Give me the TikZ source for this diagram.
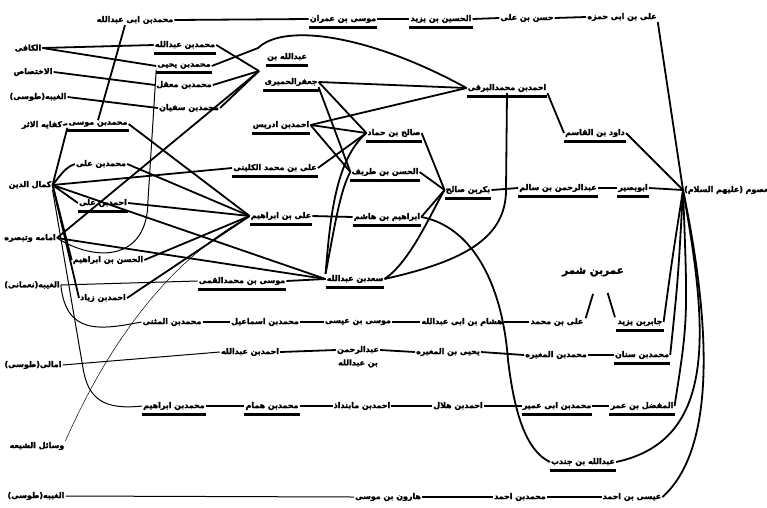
\documentclass[tikz,border=0pt]{standalone}
\usepackage{fontspec}
\newfontfamily\arabicfont[Script=Arabic, FakeBold=2.2]{DejaVu Sans}
\TeXXeTstate=1
\usetikzlibrary{positioning}
\tikzset{
	% a narrator or a book, set right to left
	narrator/.style={
		inner sep=1pt, font=\arabicfont\bfseries\fontsize{7.9}{9}\selectfont,
		execute at begin node={\beginR}, execute at end node={\endR}
	},
	% the thick bar under some of the names
	marked/.style={
		append after command={([yshift=-3pt]\tikzlastnode.south west) edge[bar] ([yshift=-3pt]\tikzlastnode.south east)}
	},
	bar/.style={draw, line width=2.8pt},
	% the lines of transmission
	link/.style={draw, line width=1.8pt},
	thinlink/.style={draw, line width=1pt},
	hairline/.style={draw, line width=0.5pt},
}

\begin{document}
\begin{tikzpicture}[x=1pt,y=-1pt]
	\useasboundingbox (0,0) rectangle (767,507);

	% Books
	\node [narrator] (kafi) at (28,48) {الکافی};
	\node [narrator] (ikhtisas) at (33,72) {الاختصاص};
	\node [narrator] (ghaybaT) at (38,97) {الغیبه(طوسی)};
	\node [narrator] (kifaya) at (42,125) {کفایه الاثر};
	\node [narrator] (kamal) at (30,185) {کمال الدین};
	\node [narrator] (imama) at (30,238) {امامه وتبصره};
	\node [narrator] (ghaybaN) at (32,285) {الغیبه(نعمانی)};
	\node [narrator] (amali) at (33,365) {امالی(طوسی)};
	\node [narrator] (wasail) at (37,446) {وسائل الشیعه};
	\node [narrator] (ghaybaTb) at (36,496) {الغیبه(طوسی)};

	% Top row
	\node [narrator] (mAbiAbd) at (135,20) {محمدبن ابی عبدالله};
	\node [narrator,marked] (musaImran) at (343,19) {موسی بن عمران};
	\node [narrator,marked] (husYazid) at (441,19) {الحسین بن یزید};
	\node [narrator] (hasanAli) at (527,18) {حسن بن علی};
	\node [narrator] (aliHamza) at (622,17) {علی بن ابی حمزه};

	% Second column
	\node [narrator,marked] (mAbd) at (185,45) {محمدبن عبدالله};
	\node [narrator,marked] (mYahya) at (184,66) {محمدبن یحیی};
	\node [narrator] (mMaqal) at (184,85) {محمدبن معقل};
	\node [narrator] (mSufyan) at (189,108) {محمدبن سفیان};
	\node [narrator,marked] (mMusa) at (98,124) {محمدبن موسی};
	\node [narrator] (mAli) at (101,164) {محمدبن علی};
	\node [narrator,marked] (aAli) at (103,203) {احمدبن علی};
	\node [narrator] (hIbrahim) at (108,260) {الحسن بن ابراهیم};
	\node [narrator] (aZiyad) at (103,298) {احمدبن زیاد};
	\node [narrator] (mMuthanna) at (172,322) {محمدبن المثنی};
	\node [narrator,marked] (musaQummi) at (242,281) {موسی بن محمدالقمی};
	\node [narrator] (aAbd) at (250,352) {احمدبن عبدالله};
	\node [narrator,marked] (mIbrahim) at (174,406) {محمدبن ابراهیم};

	% Third column
	\node [narrator,marked] (abdJafarA) at (287,57) {عبدالله بن};
	\node [narrator,marked] (abdJafar) at (291,82) {جعفرالحمیری};
	\node [narrator,marked] (aIdris) at (281,125) {احمدبن ادریس};
	\node [narrator,marked] (kulayni) at (275,168) {علی بن محمد الکلینی};
	\node [narrator,marked] (aliIbr) at (281,216) {علی بن ابراهیم};
	\node [narrator,marked] (saad) at (355,279) {سعدبن عبدالله};
	\node [narrator] (mIsmail) at (265,322) {محمدبن اسماعیل};
	\node [narrator,marked] (mHammam) at (272,406) {محمدبن همام};

	% Fourth column
	\node [narrator,marked] (saleh) at (394,133) {صالح بن حماد};
	\node [narrator,marked] (hasanT) at (385,172) {الحسن بن طریف};
	\node [narrator,marked] (ibrahimH) at (387,217) {ابراهیم بن هاشم};
	\node [narrator] (musaIsa) at (358,322) {موسی بن عیسی};
	\node [narrator] (abdRahman) at (358,350) {عبدالرحمن};
	\node [narrator,below=3pt of abdRahman] (abdRahmanB) {بن عبدالله};
	\node [narrator] (aMabndad) at (362,406) {احمدبن مابنداذ};
	\node [narrator] (haroun) at (388,497) {هارون بن موسی};

	% Fifth column
	\node [narrator,marked] (barqi) at (507,88) {احمدبن محمدالبرقی};
	\node [narrator,marked] (bakr) at (468,190) {بکربن صالح};
	\node [narrator] (hisham) at (462,322) {هشام بن ابی عبدالله};
	\node [narrator] (yahyaM) at (448,352) {یحیی بن المغیره};
	\node [narrator] (aHilal) at (458,406) {احمدبن هلال};
	\node [narrator] (mAhmad) at (520,497) {محمدبن احمد};

	% Sixth column
	\node [narrator,marked] (dawud) at (595,133) {داود بن القاسم};
	\node [narrator,marked] (abdRahmanS) at (558,188) {عبدالرحمن بن سالم};
	\node [narrator,marked] (abuBasir) at (633,188) {ابوبصیر};
	\node [narrator,font=\arabicfont\bfseries\fontsize{10.5}{12}\selectfont] (omar) at (593,272) {عمربن شمر};
	\node [narrator] (aliM) at (557,322) {علی بن محمد};
	\node [narrator,marked] (jabir) at (640,322) {جابربن یزید};
	\node [narrator] (mMughira) at (556,355) {محمدبن المغیره};
	\node [narrator,marked] (mSinan) at (642,355) {محمدبن سنان};
	\node [narrator,marked] (mAbiUmair) at (557,406) {محمدبن ابی عمیر};
	\node [narrator,marked] (mufaddal) at (642,406) {المفضل بن عمر};
	\node [narrator,marked] (jundab) at (583,462) {عبدالله بن جندب};
	\node [narrator] (isa) at (632,497) {عیسی بن احمد};

	% The Imam
	\node [narrator,anchor=west] (masum) at (683,190) {معصوم (علیهم السلام)};

	\coordinate (hub) at (259,71);

	% Top chain
	\draw [link] (mAbiAbd.east) -- (musaImran.west);
	\draw [link] (musaImran.east) -- (husYazid.west);
	\draw [link] (husYazid.east) -- (hasanAli.west);
	\draw [link] (hasanAli.east) -- (aliHamza.west);
	\draw [link] (aliHamza.south east) -- (masum.west);
	\draw [link] ([xshift=-10pt]mAbiAbd.south) -- (mMusa.north);
	\draw [link] (kifaya.east) -- (mMusa.west);

	% al-Kafi and its neighbours
	\draw [link] (kafi.east) -- (mAbd.west);
	\draw [link] (kafi.east) -- (mYahya.west);
	\draw [link] (ikhtisas.east) -- (mMaqal.west);
	\draw [link] (ghaybaT.east) -- (mSufyan.west);
	\draw [link] (mAbd.east) -- (hub);
	\draw [link] (mMaqal.east) -- (hub);
	\draw [link] (mSufyan.east) -- (hub);
	\draw [link] (mYahya.east) -- (258,48) .. controls (285,22) and (372,36) .. (barqi.west);
	\draw [link] (abdJafar.east) -- (barqi.west);
	\draw [link] (aIdris.east) -- (barqi.west);
	\draw [link] (abdJafar.east) -- (saleh.west);
	\draw [link] (abdJafar.south east) -- (hasanT.west);
	\draw [link] (aIdris.east) -- (saleh.west);
	\draw [link] (aIdris.east) -- (hasanT.west);
	\draw [link] (kulayni.east) -- (saleh.west);

	% al-Barqi and Dawud
	\draw [link] (barqi.south east) -- (dawud.west);
	\draw [link] (dawud.east) -- (masum.west);
	\draw [link] (saad.east) .. controls (460,262) and (506,240) .. (506,190) -- (barqi.south);

	% Abu Basir chain
	\draw [link] (abuBasir.east) -- (masum.west);
	\draw [link] (abdRahmanS.east) -- (abuBasir.west);
	\draw [link] (bakr.east) -- (abdRahmanS.west);
	\draw [link] (saleh.east) -- (bakr.west);
	\draw [link] (hasanT.east) -- (bakr.west);
	\draw [link] (ibrahimH.east) -- (bakr.west);
	\draw [link] (saad.east) .. controls (410,262) and (430,215) .. (bakr.west);
	\draw [link] (saad.north west) .. controls (330,220) and (335,160) .. (saleh.west);
	\draw [link] (saad.north west) .. controls (334,230) and (340,190) .. (hasanT.west);
	\draw [link] (aliIbr.east) -- (ibrahimH.west);
	\draw [link] (ibrahimH.east) .. controls (470,226) and (502,280) .. (508,360) .. controls (514,410) and (525,450) .. (jundab.west);

	% Kamal al-din
	\draw [link] (kamal.east) -- (mMusa.south west);
	\draw [link] (kamal.east) .. controls (66,168) .. (mAli.west);
	\draw [link] (kamal.east) -- (aAli.west);
	\draw [link] (kamal.east) -- (hIbrahim.west);
	\draw [link] (kamal.east) -- (aZiyad.west);
	\draw [link] (kamal.east) -- (kulayni.west);
	\draw [link] (kamal.east) -- (saad.west);
	\draw [thinlink] (kamal.south east) -- (83,368) .. controls (88,400) and (105,410) .. (mIbrahim.west);
	\draw [link] (mMusa.east) -- (aliIbr.west);
	\draw [link] (mAli.east) -- (aliIbr.west);
	\draw [link] (aAli.east) -- (aliIbr.west);
	\draw [link] (hIbrahim.east) -- (aliIbr.west);
	\draw [link] (aZiyad.east) -- (aliIbr.west);

	% Imama
	\draw [thinlink] (imama.east) .. controls (95,262) and (148,262) .. (148,200) -- (mYahya.south west);
	\draw [link] (imama.east) -- (hub);
	\draw [link] (imama.east) -- (saad.west);
	\draw [hairline] (wasail.north east) .. controls (110,340) and (170,260) .. (aliIbr.west);

	% al-Ghayba of Nomani
	\draw [thinlink] (ghaybaN.east) -- (musaQummi.west);
	\draw [link] (musaQummi.east) -- (saad.west);
	\draw [thinlink] (ghaybaN.east) .. controls (66,335) and (100,330) .. (mMuthanna.west);

	% Jabir chain
	\draw [link] (mMuthanna.east) -- (mIsmail.west);
	\draw [link] (mIsmail.east) -- (musaIsa.west);
	\draw [link] (musaIsa.east) -- (hisham.west);
	\draw [link] (hisham.east) -- (aliM.west);
	\draw [link, shorten <=4pt, shorten >=17pt] (aliM.east) -- ([xshift=5pt]omar.south);
	\draw [link, shorten <=5pt, shorten >=16pt] (jabir.west) -- ([xshift=10pt]omar.south);
	\draw [link] (jabir.east) .. controls (672,260) .. (masum.west);

	% Muhammad b. Sinan chain
	\draw [thinlink] (amali.east) -- (aAbd.west);
	\draw [link] (aAbd.east) -- (abdRahman.west);
	\draw [link] (abdRahman.east) -- (yahyaM.west);
	\draw [link] (yahyaM.east) -- (mMughira.west);
	\draw [link] (mMughira.east) -- (mSinan.west);
	\draw [link] (mSinan.east) .. controls (678,280) .. (masum.west);

	% al-Mufaddal chain
	\draw [link] (mIbrahim.east) -- (mHammam.west);
	\draw [link] (mHammam.east) -- (aMabndad.west);
	\draw [link] (aMabndad.east) -- (aHilal.west);
	\draw [link] (aHilal.east) -- (mAbiUmair.west);
	\draw [link] (mAbiUmair.east) -- (mufaddal.west);
	\draw [link] (mufaddal.east) .. controls (688,320) .. (masum.west);
	\draw [link] (jundab.east) .. controls (718,440) and (708,330) .. (masum.west);

	% Isa b. Ahmad chain
	\draw [thinlink] (ghaybaTb.east) -- (haroun.west);
	\draw [link] (haroun.east) -- (mAhmad.west);
	\draw [link] (mAhmad.east) -- (isa.west);
	\draw [link] (isa.east) .. controls (715,450) and (712,330) .. (masum.west);
\end{tikzpicture}
\end{document}
